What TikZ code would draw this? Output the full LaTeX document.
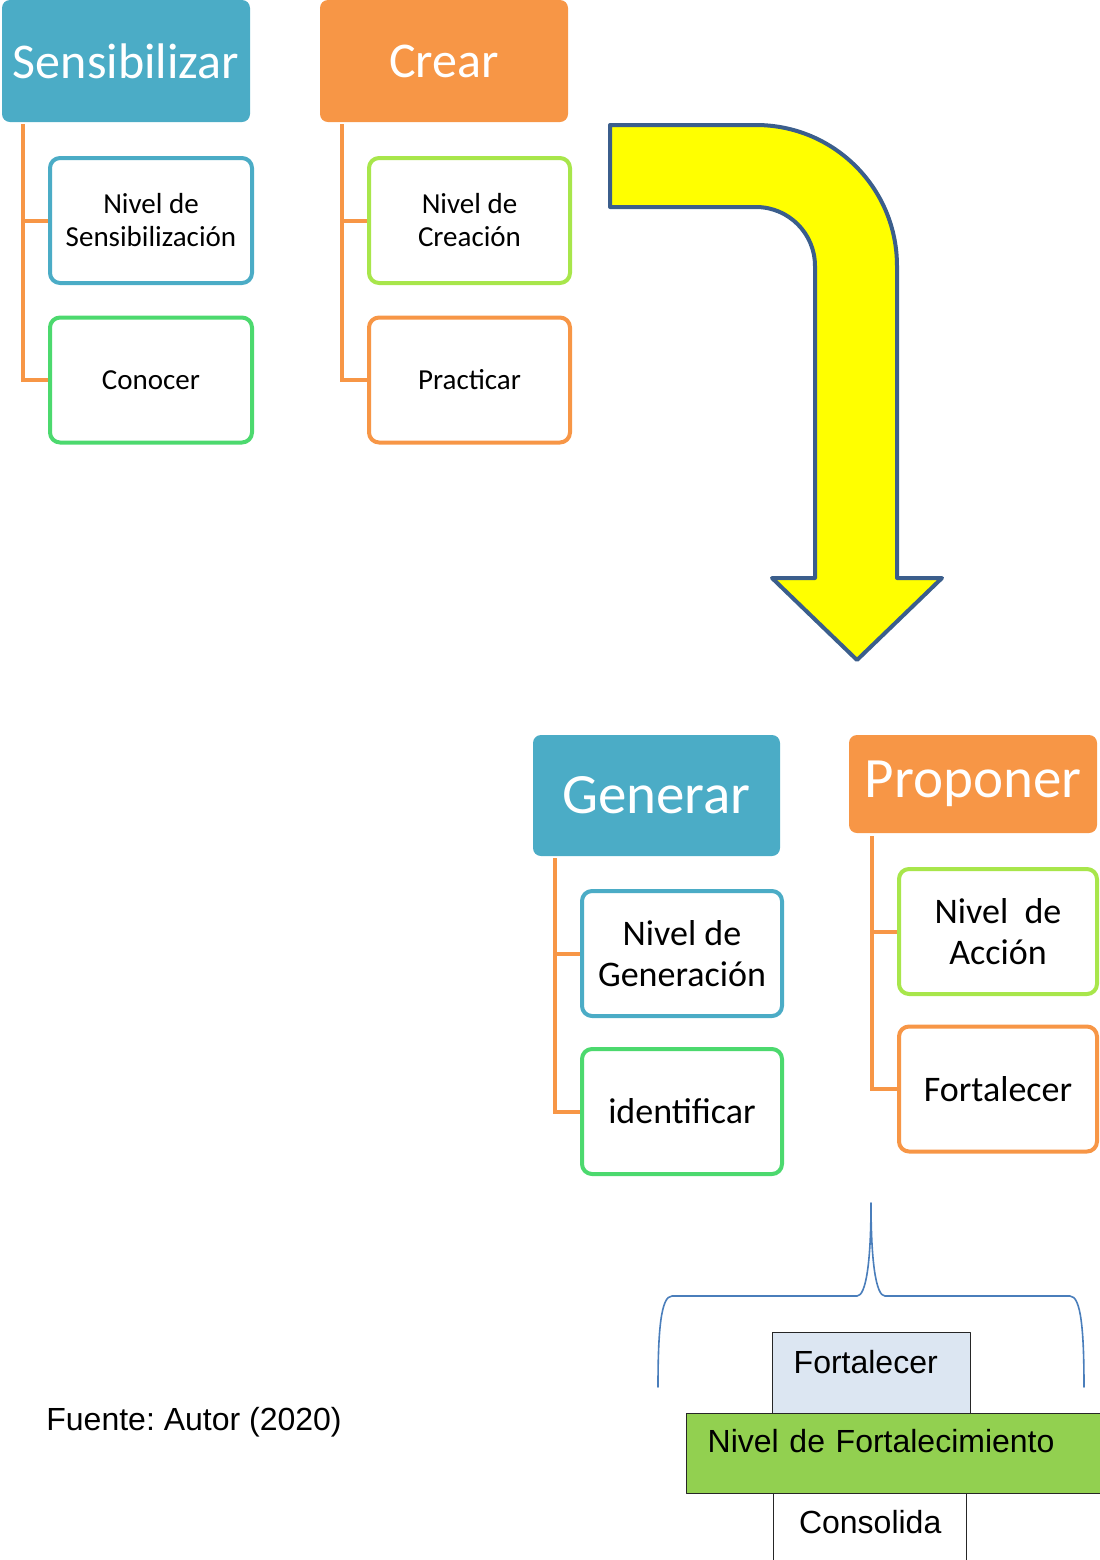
\documentclass[tikz,border=0pt]{standalone}
\usepackage{fontspec}
\setmainfont{Carlito}
\newfontfamily\arialfont{Liberation Sans}
\frenchspacing
\definecolor{hdrblue}{HTML}{4BACC6}
\definecolor{hdrorange}{HTML}{F79646}
\definecolor{limeline}{HTML}{A8E64B}
\definecolor{greenline}{HTML}{4CD96E}
\definecolor{arrowedge}{HTML}{3B5E8C}
\definecolor{arrowfill}{HTML}{FFFF00}
\definecolor{bracecol}{HTML}{4A7EBB}
\definecolor{paleblue}{HTML}{DCE6F2}
\definecolor{levelgreen}{HTML}{92D050}
\begin{document}
\begin{tikzpicture}[x=0.5pt,y=-0.5pt,line cap=round,line join=round,
header/.style={fill=#1,rounded corners=4pt,text=white,inner sep=0pt,minimum width=124pt},
subbox/.style={draw=#1,line width=2pt,rounded corners=5pt,fill=white,inner sep=0pt,align=center,minimum height=62.5pt},
branch/.style={draw=hdrorange,line width=2pt,line cap=butt,line join=miter},
levelbox/.style={draw=black!85,line width=0.7pt,inner ysep=0pt,font=\arialfont\fontsize{16pt}{19pt}\selectfont}]
\useasboundingbox (0,0) rectangle (1099,1560);

\node [header=hdrblue,minimum height=61pt,font=\fontsize{25pt}{30pt}\selectfont] (sens) at (126,61) {Sensibilizar};
\node [header=hdrorange,minimum height=61pt,font=\fontsize{25pt}{30pt}\selectfont] (crear) at (444,61) {Crear};

\node [subbox=hdrblue,minimum width=101pt,font=\fontsize{14.5pt}{16.5pt}\selectfont] (nivsens) at (151,220.5) {Nivel de\\Sensibilización};
\node [subbox=greenline,minimum width=101pt,font=\fontsize{14.5pt}{16.5pt}\selectfont] (conocer) at (151,380) {Conocer};
\node [subbox=limeline,minimum width=100.5pt,font=\fontsize{14.5pt}{16.5pt}\selectfont] (nivcrea) at (469.5,220.5) {Nivel de\\Creación};
\node [subbox=hdrorange,minimum width=100.5pt,font=\fontsize{14.5pt}{16.5pt}\selectfont] (practicar) at (469.5,380) {Practicar};

\draw [branch] ([xshift=10.5pt,yshift=-1pt]sens.south west) |- (nivsens.west);
\draw [branch] ([xshift=10.5pt,yshift=-1pt]sens.south west) |- (conocer.west);
\draw [branch] ([xshift=11pt,yshift=-1pt]crear.south west) |- (nivcrea.west);
\draw [branch] ([xshift=11pt,yshift=-1pt]crear.south west) |- (practicar.west);

\draw [line width=2pt,draw=arrowedge,fill=arrowfill] (610,125) -- (756,125) .. controls (834,125) and (897,188) .. (897,266) -- (897,578) -- (942,578) -- (857,660) -- (772,578) -- (815,578) -- (815,266) .. controls (815,233.4) and (788.6,207) .. (756,207) -- (610,207) -- cycle;

\node [header=hdrblue,minimum width=123.5pt,minimum height=60.5pt,font=\fontsize{28.5pt}{34pt}\selectfont] (generar) at (656.5,795.5) {Generar};
\node [header=hdrorange,minimum height=49pt,font=\fontsize{28.5pt}{34pt}\selectfont] (proponer) at (973,784) {Proponer};

\node [subbox=hdrblue,minimum width=100pt,font=\fontsize{18pt}{20.5pt}\selectfont] (nivgen) at (682,953.5) {Nivel de\\Generación};
\node [subbox=greenline,minimum width=100pt,font=\fontsize{18pt}{20.5pt}\selectfont] (identificar) at (682,1111.5) {identificar};
\node [subbox=limeline,minimum width=99pt,font=\fontsize{18pt}{20.5pt}\selectfont] (nivaccion) at (998,931.5) {Nivel\ \ de\\Acción};
\node [subbox=hdrorange,minimum width=99pt,font=\fontsize{18pt}{20.5pt}\selectfont] (fortalecer) at (998,1089) {Fortalecer};

\draw [branch] ([xshift=11pt,yshift=-1pt]generar.south west) |- (nivgen.west);
\draw [branch] ([xshift=11pt,yshift=-1pt]generar.south west) |- (identificar.west);
\draw [branch] ([xshift=11.5pt,yshift=-1.5pt]proponer.south west) |- (nivaccion.west);
\draw [branch] ([xshift=11.5pt,yshift=-1.5pt]proponer.south west) |- (fortalecer.west);

\draw [bracecol,line width=0.8pt] (658,1387) .. controls (658,1330) and (661,1296) .. (672,1296) -- (857,1296) .. controls (866,1296) and (871,1262) .. (871,1203) .. controls (871,1262) and (876,1296) .. (885,1296) -- (1070,1296) .. controls (1081,1296) and (1084,1330) .. (1084,1387);

\node [levelbox,fill=paleblue,anchor=north west,text width=78pt,inner xsep=10.5pt,align=left,text height=20.5pt,text depth=20pt] (fortbox) at (772,1332) {Fortalecer};
\node [levelbox,fill=white,anchor=north west,minimum width=96.5pt,text height=20pt,text depth=25pt] (consolida) at (773,1493) {Consolida};
\node [levelbox,fill=levelgreen,anchor=north west,text width=201.5pt,inner xsep=10.5pt,align=left,text height=19.5pt,text depth=20.5pt] (nivfort) at (686,1413) {Nivel de Fortalecimiento};

\node [anchor=base west,inner sep=0pt,font=\arialfont\fontsize{16pt}{19pt}\selectfont] (fuente) at (46,1430) {Fuente: Autor (2020)};
\end{tikzpicture}
\end{document}
